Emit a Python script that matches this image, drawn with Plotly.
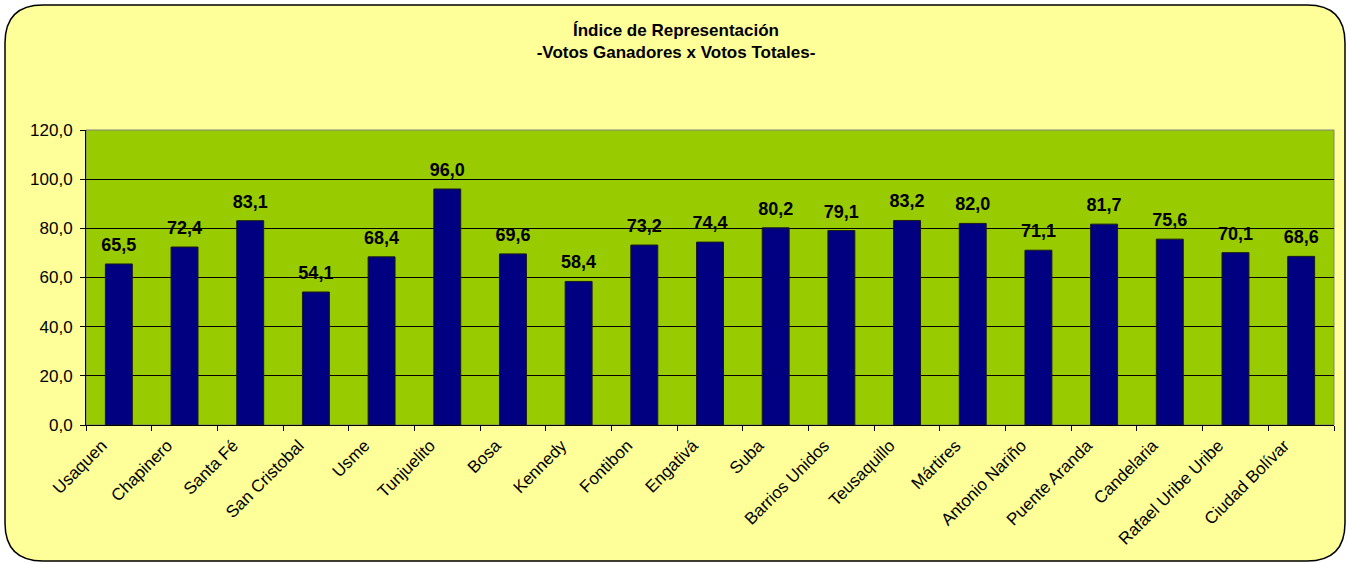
import plotly.graph_objects as go

localidades = ["Usaquen", "Chapinero", "Santa Fé", "San Cristobal", "Usme", "Tunjuelito",
               "Bosa", "Kennedy", "Fontibon", "Engativá", "Suba", "Barrios Unidos",
               "Teusaquillo", "Mártires", "Antonio Nariño", "Puente Aranda", "Candelaria",
               "Rafael Uribe Uribe", "Ciudad Bolívar"]
indice = [65.5, 72.4, 83.1, 54.1, 68.4, 96.0, 69.6, 58.4, 73.2, 74.4, 80.2, 79.1,
          83.2, 82.0, 71.1, 81.7, 75.6, 70.1, 68.6]
y_ticks = [0, 20, 40, 60, 80, 100, 120]

W, H = 1347, 563
L, R, T, B = 86, 13, 130, 138
PW, PH = W - L - R, H - T - B


def px(x, y):
    # pixel -> paper coords
    return (x - L) / PW, (H - B - y) / PH


def rounded_rect(x0, y0, x1, y1, r):
    pts = [
        ("M", [(x0 + r, y0)]), ("L", [(x1 - r, y0)]), ("Q", [(x1, y0), (x1, y0 + r)]),
        ("L", [(x1, y1 - r)]), ("Q", [(x1, y1), (x1 - r, y1)]),
        ("L", [(x0 + r, y1)]), ("Q", [(x0, y1), (x0, y1 - r)]),
        ("L", [(x0, y0 + r)]), ("Q", [(x0, y0), (x0 + r, y0)]),
    ]
    s = ""
    for cmd, ps in pts:
        s += cmd + " " + " ".join(f"{px(a, b)[0]:.5f},{px(a, b)[1]:.5f}" for a, b in ps) + " "
    return s + "Z"


font = "Arial, Liberation Sans, sans-serif"

fig = go.Figure()
fig.add_trace(go.Bar(
    x=localidades, y=indice,
    marker=dict(color="#000080", line=dict(color="#1a1a1a", width=1)),
    width=0.41,
    hoverinfo="x+y",
    showlegend=False,
))
# etiquetas de valor encima de cada barra
fig.add_trace(go.Scatter(
    x=localidades, y=indice,
    mode="markers+text",
    marker=dict(size=12, opacity=0),
    text=[f"<b>{v:.1f}</b>".replace(".", ",") for v in indice],
    textposition="top center",
    textfont=dict(family=font, size=18, color="black"),
    cliponaxis=False,
    hoverinfo="skip",
    showlegend=False,
))

fig.update_layout(
    width=W, height=H,
    margin=dict(l=L, r=R, t=T, b=B),
    separators=",.",
    paper_bgcolor="white",
    plot_bgcolor="rgba(0,0,0,0)",
    font=dict(family=font, color="black"),
    title=dict(text="<b>Índice de Representación<br>-Votos Ganadores x Votos Totales-</b>",
               x=676 / W, xref="container", xanchor="center",
               yref="container", y=1 - 36 / H, yanchor="top",
               font=dict(family=font, size=17, color="black")),
    xaxis=dict(type="category", range=[-0.5, len(localidades) - 0.5],
               tickson="boundaries", ticks="outside", ticklen=5,
               tickcolor="black", showline=True, linecolor="black", linewidth=1,
               tickangle=-45, tickfont=dict(size=17, family=font), showgrid=False,
               ticklabelstandoff=3, ticklabelshift=-17),
    yaxis=dict(range=[0, 120], tickvals=y_ticks, tickformat=".1f", ticks="outside",
               ticklen=5, tickcolor="black", showline=True, linecolor="black",
               showgrid=True, gridcolor="black", gridwidth=1, zeroline=False,
               tickfont=dict(size=17, family=font), ticklabelstandoff=4),
    bargap=0.59,
    shapes=[
        dict(type="path", path=rounded_rect(5, 5, 1345, 561, 38), xref="paper", yref="paper",
             fillcolor="#FFFF99", line=dict(color="black", width=1.5), layer="below"),
        dict(type="rect", x0=0, x1=1, y0=0, y1=1, xref="paper", yref="paper",
             fillcolor="#99CC00", line=dict(color="#808080", width=1), layer="below"),
    ],
)

fig.write_html("out.html", config={"displayModeBar": False},
               post_script="document.body.style.margin='0';")
